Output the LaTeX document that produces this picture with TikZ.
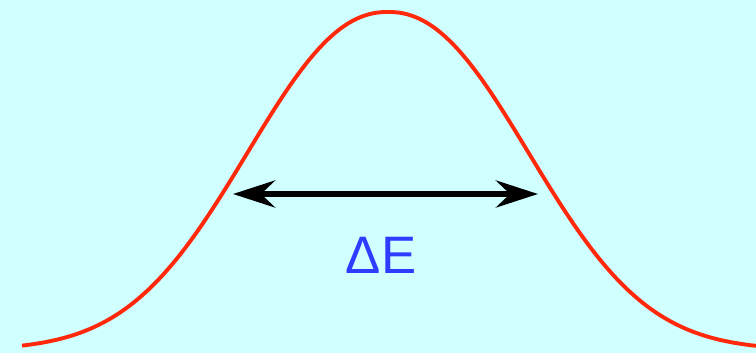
\documentclass[tikz,border=0pt]{standalone}
\usepackage{fontspec}
\setmainfont{Liberation Sans}
\usepackage{tikz}
\usetikzlibrary{arrows.meta}
\definecolor{bgcyan}{RGB}{208,255,255}
\definecolor{curvered}{RGB}{255,40,10}
\definecolor{labelblue}{RGB}{45,60,255}

\begin{document}
\begin{tikzpicture}
\fill[bgcyan] (0,0) rectangle (15.12,7.06);
\useasboundingbox (0,0) rectangle (15.12,7.06);
\draw[curvered, line width=2.2pt, domain=0.44:15.12, samples=201, smooth] plot (\x, {0.06 + 6.76*exp(-0.0566*pow(abs(\x-7.76)+0.0001,2.18))});
\coordinate (lo) at (4.66,3.18);
\coordinate (hi) at (10.76,3.18);
\draw[line width=3.5pt, {Stealth[length=0.84cm, width=0.54cm, inset=0.28cm]}-{Stealth[length=0.84cm, width=0.54cm, inset=0.28cm]}] (lo) -- (hi);
\node[anchor=base, text=labelblue, font=\fontsize{30}{34}\selectfont] (dE) at (7.62,1.6) {ΔE};
\end{tikzpicture}
\end{document}
